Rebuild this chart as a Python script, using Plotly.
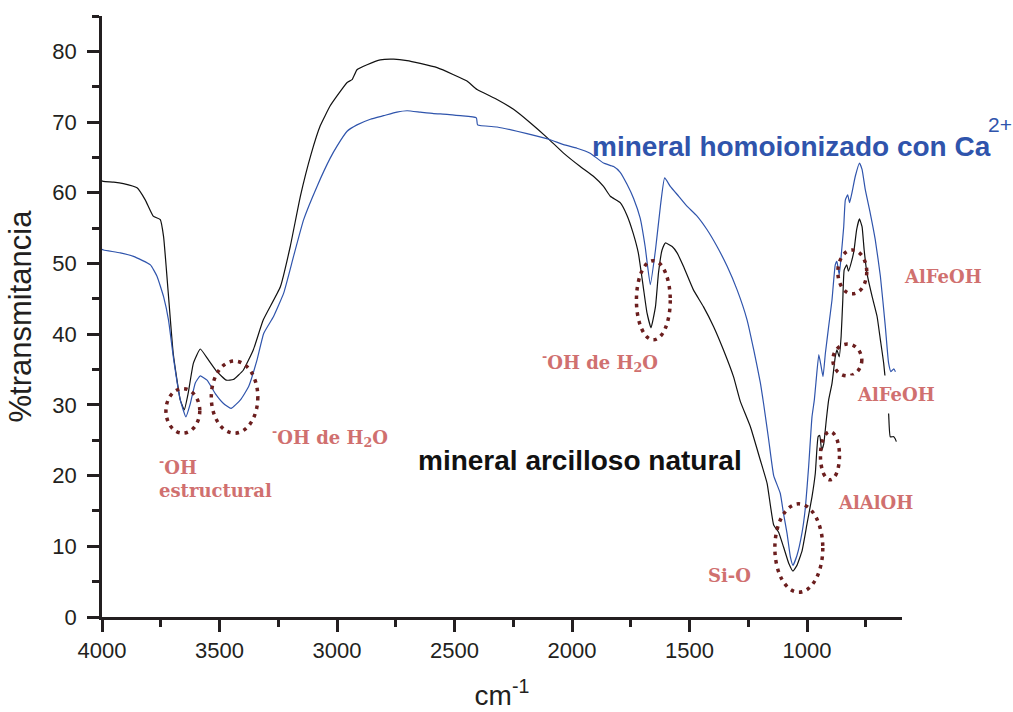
import plotly.graph_objects as go

# FTIR spectra: wavenumber (cm-1) and % transmittance
wn_natural = [4000, 3994, 3950, 3909, 3851, 3816, 3782, 3752, 3738, 3718, 3697, 3667, 3650, 3633,
              3611, 3582, 3548, 3511, 3471, 3441, 3399, 3356, 3314, 3241, 3199, 3156, 3110, 3071,
              3029, 3000, 2957, 2936, 2915, 2872, 2816, 2759, 2702, 2646, 2574, 2504, 2447, 2404,
              2319, 2249, 2178, 2106, 2036, 1965, 1908, 1866, 1837, 1795, 1766, 1740, 1718, 1697,
              1681, 1664, 1645, 1632, 1617, 1603, 1574, 1553, 1526, 1484, 1441, 1398, 1356, 1313,
              1284, 1241, 1199, 1170, 1142, 1121, 1100, 1078, 1060, 1043, 1021, 1000, 979, 965,
              953, 946, 938, 929, 918, 908, 894, 880, 873, 863, 855, 848, 842, 831, 824, 809, 800,
              789, 777, 766, 757, 745, 723, 702, 688, 674, 653, 646, 631, 625, 620]
t_natural = [61.7, 61.6, 61.5, 61.3, 60.7, 59.0, 56.7, 56.2, 53.8, 45.8, 37.3, 30.7, 29.3, 31.7,
             35.9, 37.9, 36.4, 34.7, 33.5, 33.6, 34.9, 37.8, 42.0, 46.7, 52.4, 59.5, 65.5, 69.5,
             72.3, 73.7, 75.6, 76.0, 77.4, 78.1, 78.8, 78.9, 78.7, 78.3, 77.7, 76.7, 75.8, 74.6,
             73.2, 71.8, 69.9, 67.8, 65.6, 63.7, 62.3, 60.9, 59.5, 58.6, 56.8, 54.3, 51.5, 46.7,
             43.0, 40.9, 43.9, 48.7, 51.9, 52.9, 52.4, 51.5, 49.6, 46.3, 43.9, 41.1, 37.8, 34.0,
             30.5, 26.9, 22.2, 18.9, 13.0, 12.0, 9.9, 7.6, 6.5, 7.3, 9.4, 13.2, 17.0, 20.3,
             25.5, 25.7, 23.6, 24.5, 27.9, 30.7, 33.0, 36.8, 37.8, 36.8, 39.7, 44.8, 49.1, 49.8,
             48.9, 50.5, 51.9, 54.8, 56.3, 55.2, 51.9, 48.6, 45.3, 42.5, 39.2, 35.9, 28.8, 25.5,
             25.5, 25.2, 24.8]

wn_calcium = [4000, 3993, 3922, 3866, 3794, 3766, 3738, 3717, 3695, 3667, 3643, 3624, 3603, 3582,
              3553, 3518, 3483, 3451, 3411, 3376, 3340, 3312, 3270, 3227, 3185, 3142, 3085, 3029,
              3000, 2957, 2915, 2858, 2802, 2745, 2702, 2646, 2589, 2532, 2475, 2407, 2402, 2319,
              2234, 2149, 2093, 2036, 1979, 1923, 1866, 1823, 1795, 1766, 1738, 1710, 1689, 1667,
              1645, 1624, 1606, 1582, 1546, 1511, 1468, 1426, 1383, 1340, 1298, 1255, 1227, 1199,
              1185, 1163, 1142, 1114, 1100, 1085, 1071, 1060, 1043, 1021, 1007, 993, 979, 969,
              962, 950, 940, 932, 922, 908, 894, 880, 873, 863, 855, 844, 837, 827, 819, 809, 795,
              777, 766, 752, 731, 710, 688, 667, 653, 643, 631, 624]
t_calcium = [52.0, 51.9, 51.5, 51.0, 49.8, 48.2, 45.3, 42.0, 36.4, 30.7, 28.3, 30.2, 33.1, 34.1,
             33.5, 31.6, 30.2, 29.5, 30.7, 32.6, 36.4, 40.1, 42.5, 45.8, 51.0, 56.2, 60.9, 64.9,
             66.6, 68.7, 69.6, 70.4, 70.9, 71.4, 71.6, 71.4, 71.2, 71.1, 70.9, 70.6, 69.6, 69.3,
             68.7, 68.0, 67.5, 66.8, 66.3, 65.6, 64.2, 63.7, 62.9, 61.2, 59.2, 56.4, 52.4, 47.0,
             51.9, 58.1, 62.1, 60.9, 59.5, 58.1, 56.7, 54.8, 52.4, 49.6, 46.3, 42.0, 37.8, 33.2,
             30.2, 25.0, 20.0, 17.5, 14.6, 11.8, 8.5, 7.3, 8.7, 12.0, 15.5, 21.4, 28.3, 30.7,
             33.2, 37.1, 35.4, 34.0, 37.3, 41.1, 44.8, 49.8, 50.3, 48.4, 51.0, 55.2, 59.0, 59.7,
             58.6, 60.0, 62.3, 64.2, 63.3, 60.4, 57.1, 53.4, 48.2, 41.1, 35.9, 34.7, 35.1, 34.7]

x_ticks = [4000, 3500, 3000, 2500, 2000, 1500, 1000]
y_ticks = [0, 10, 20, 30, 40, 50, 60, 70, 80]

# band assignments inside the plotted range: (text, wavenumber, transmittance)
band_labels = [
    ("<sup>-</sup>OH de H<sub>2</sub>O", 3284, 25.4),
    ("<sup>-</sup>OH<br>estructural", 3765, 19.8),
    ("<sup>-</sup>OH de H<sub>2</sub>O", 2135, 36.1),
    ("AlAlOH", 875, 16.2),
    ("Si-O", 1428, 5.9),
]
# highlighted bands: (wn_hi, wn_lo, t_lo, t_hi)
band_regions = [
    (3728, 3584, 26.0, 32.3),
    (3535, 3337, 26.0, 36.2),
    (1726, 1582, 39.2, 50.4),
    (1137, 933, 3.5, 16.0),
    (943, 862, 19.4, 26.2),
    (869, 746, 45.7, 51.9),
    (890, 767, 34.1, 38.6),
]

SANS = "Liberation Sans, Arial, sans-serif"
SERIF = "DejaVu Serif, serif"
BLUE = "#2F54AC"
INK = "#231F20"
RED = "#D0706F"
DOT = "#6B1E1E"
label_font = dict(family=SERIF, size=18, color=RED, weight="bold")

fig = go.Figure()
fig.add_trace(go.Scatter(x=wn_natural, y=t_natural, mode="lines",
                         line=dict(color="#111111", width=1.2, shape="spline", smoothing=0.4),
                         name="mineral arcilloso natural"))
fig.add_trace(go.Scatter(x=wn_calcium, y=t_calcium, mode="lines",
                         line=dict(color=BLUE, width=1.2, shape="spline", smoothing=0.4),
                         name="mineral homoionizado con Ca2+"))

for x0, x1, y0, y1 in band_regions:
    fig.add_shape(type="circle", xref="x", yref="y", x0=x0, x1=x1, y0=y0, y1=y1,
                  line=dict(color=DOT, width=3.5, dash="3.5px,5px"), layer="above")

for text, x, y in band_labels:
    fig.add_annotation(x=x, y=y, xref="x", yref="y", text=text, showarrow=False,
                       xanchor="left", yanchor="middle", align="left", font=label_font)

# AlFeOH label beside the plot area
fig.add_annotation(x=1.0, y=0.567, xref="paper", yref="paper", text="AlFeOH", showarrow=False,
                   xanchor="left", yanchor="middle", font=label_font)
# lower AlFeOH label sits on an opaque box
fig.add_annotation(x=826, y=31.5, xref="x", yref="y", text="AlFeOH", showarrow=False,
                   xanchor="left", yanchor="middle", bgcolor="white", borderpad=8,
                   font=label_font)

fig.add_annotation(x=1922, y=66.6, xref="x", yref="y", text="mineral homoionizado con Ca",
                   showarrow=False, xanchor="left", yanchor="middle",
                   font=dict(family=SANS, size=28, color=BLUE, weight="bold"))
fig.add_annotation(x=1.105, y=0.82, xref="paper", yref="paper", text="2+",
                   showarrow=False, xanchor="left", yanchor="middle",
                   font=dict(family=SANS, size=21, color=BLUE))
fig.add_annotation(x=2663, y=22.2, xref="x", yref="y", text="mineral arcilloso natural",
                   showarrow=False, xanchor="left", yanchor="middle",
                   font=dict(family=SANS, size=28, color="#111111", weight="bold"))

axis_common = dict(showline=True, linecolor=INK, linewidth=2.5, showgrid=False, zeroline=False,
                   ticks="outside", ticklen=12, tickwidth=2.5, tickcolor=INK, mirror=False,
                   automargin=False, tickfont=dict(family=SANS, size=22, color=INK))

fig.update_xaxes(range=[4000, 596], tickvals=x_ticks, autorange=False,
                 minor=dict(ticks="outside", ticklen=7, tickwidth=2.5, tickcolor=INK, dtick=250,
                            tick0=0, showgrid=False),
                 title=dict(text="cm<sup>-1</sup>", font=dict(family=SANS, size=28, color=INK),
                            standoff=24),
                 **axis_common)
fig.update_yaxes(range=[0, 85], tickvals=y_ticks, ticklabelstandoff=6,
                 minor=dict(ticks="outside", ticklen=7, tickwidth=2.5, tickcolor=INK, dtick=5,
                            tick0=0, showgrid=False),
                 title=dict(text="%transmitancia", font=dict(family=SANS, size=31, color=INK),
                            standoff=12),
                 **axis_common)

fig.update_layout(width=1013, height=712, showlegend=False,
                  paper_bgcolor="white", plot_bgcolor="white",
                  margin=dict(l=102, r=111, t=16, b=95))

fig.write_html("out.html")
